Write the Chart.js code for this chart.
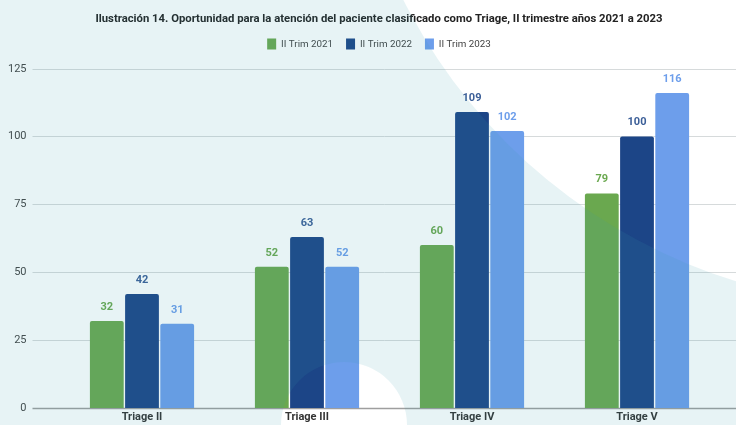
<!DOCTYPE html>
<html>
<head>
<meta charset="utf-8">
<script src="https://cdn.jsdelivr.net/npm/chart.js@4/dist/chart.umd.min.js"></script>
<style>
  html, body { margin: 0; padding: 0; background: #fff; }
  #wrap { width: 736px; height: 425px; }
</style>
</head>
<body>
<div id="wrap"><canvas id="triageChart"></canvas></div>
<script>
// datos
const categories = ['Triage II', 'Triage III', 'Triage IV', 'Triage V'];
const trim2021 = [32, 52, 60, 79];
const trim2022 = [42, 63, 109, 100];
const trim2023 = [31, 52, 102, 116];
const seriesNames = ['II Trim 2021', 'II Trim 2022', 'II Trim 2023'];
const yTicks = [0, 25, 50, 75, 100, 125];

const colors = ['#6aa84f', '#1c4587', '#6d9eeb'];
const labelColors = ['#6aa84f', '#3c5f98', '#6d9eeb'];

// fondo blanco, grilla extendida y etiquetas del eje y
const bgPlugin = {
    id: 'bgPlugin',
    beforeLayout(chart) {
        // espacio extra debajo de la leyenda
        if (chart.legend && !chart.legend._patched) {
            const orig = chart.legend.fit;
            chart.legend.fit = function () {
                orig.call(this);
                this.height += 9;
            };
            chart.legend._patched = true;
        }
    },
    beforeDraw(chart) {
        const c = chart.ctx;
        c.save();
        c.fillStyle = '#fff';
        c.fillRect(0, 0, chart.width, chart.height);
        c.restore();
    },
    beforeDatasetsDraw(chart) {
        const c = chart.ctx;
        const y = chart.scales.y;
        const x0 = chart.chartArea.left - 27;
        c.save();
        c.font = '11px Roboto';
        c.textAlign = 'right';
        c.textBaseline = 'middle';
        yTicks.forEach(v => {
            const py = Math.round(y.getPixelForValue(v)) + 0.5;
            c.beginPath();
            c.moveTo(x0, py);
            c.lineTo(chart.width, py);
            c.lineWidth = v === 0 ? 1.5 : 1;
            c.strokeStyle = v === 0 ? '#9e9e9e' : '#d6dadb';
            c.stroke();
            c.fillStyle = '#444';
            c.fillText(String(v), chart.chartArea.left - 33, py);
        });
        c.restore();
    }
};

// etiquetas de valor sobre cada barra
const valueLabels = {
    id: 'valueLabels',
    afterDatasetsDraw(chart) {
        const c = chart.ctx;
        c.save();
        c.font = 'bold 11px Roboto';
        c.textAlign = 'center';
        c.textBaseline = 'middle';
        chart.data.datasets.forEach((ds, i) => {
            const meta = chart.getDatasetMeta(i);
            c.fillStyle = labelColors[i];
            meta.data.forEach((bar, j) => {
                c.fillText(ds.data[j], bar.x, bar.y - 14);
            });
        });
        c.restore();
    }
};

// capa decorativa celeste con dos zonas blancas
const overlay = {
    id: 'overlay',
    afterDraw(chart) {
        const c = chart.ctx;
        c.save();
        c.beginPath();
        c.rect(0, 0, chart.width, chart.height);
        c.moveTo(900 + 556, -250);
        c.arc(900, -250, 556, 0, Math.PI * 2);
        c.moveTo(344 + 63, 425);
        c.arc(344, 425, 63, 0, Math.PI * 2);
        c.fillStyle = 'rgba(55, 155, 172, 0.12)';
        c.fill('evenodd');
        c.restore();
    }
};

const ctx = document.getElementById('triageChart').getContext('2d');
new Chart(ctx, {
    type: 'bar',
    data: {
        labels: categories,
        datasets: [trim2021, trim2022, trim2023].map((d, i) => ({
            label: seriesNames[i],
            data: d,
            backgroundColor: colors[i],
            borderRadius: 2,
            borderSkipped: 'bottom',
            categoryPercentage: 0.64,
            barPercentage: 0.96
        }))
    },
    options: {
        responsive: true,
        maintainAspectRatio: false,
        animation: false,
        layout: { padding: { left: 38.5, right: 16.5, top: 0, bottom: 0 } },
        plugins: {
            title: {
                display: true,
                text: 'Ilustración 14. Oportunidad para la atención del paciente clasificado como Triage, II trimestre años 2021 a 2023',
                color: '#222',
                font: { family: 'Roboto', size: 11.3, weight: 'bold' },
                padding: { top: 12, bottom: 0 }
            },
            legend: {
                labels: {
                    boxWidth: 9,
                    boxHeight: 11,
                    color: '#444',
                    font: { family: 'Roboto', size: 9.8 },
                    padding: 13
                }
            },
            tooltip: { enabled: false }
        },
        scales: {
            x: {
                grid: { display: false, drawTicks: false },
                border: { display: false },
                ticks: { color: '#333', font: { family: 'Roboto', size: 11, weight: 'bold' }, padding: 3 },
                afterFit(scale) { scale.height = 17; }
            },
            y: {
                min: 0,
                max: 125,
                grid: { display: false, drawTicks: false },
                border: { display: false },
                ticks: { display: false, stepSize: 25 },
                afterFit(scale) { scale.width = 21; }
            }
        }
    },
    plugins: [bgPlugin, valueLabels, overlay]
});
</script>
</body>
</html>
